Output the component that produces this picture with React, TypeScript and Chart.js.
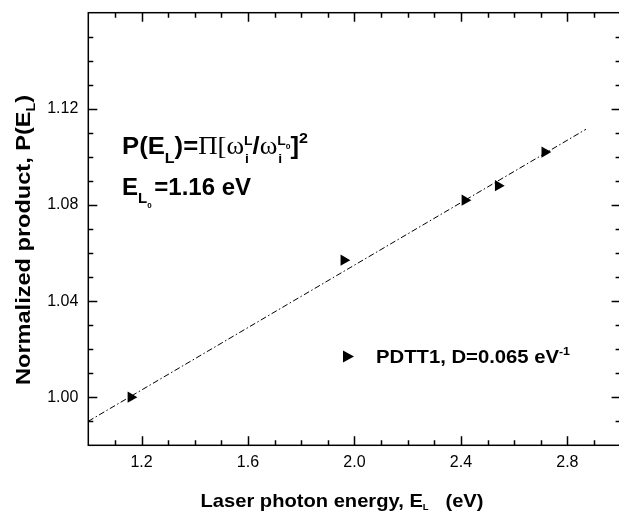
import { useEffect, useRef } from "react";
import { Chart, registerables } from "chart.js";
Chart.register(...registerables);

const energies = [1.16, 1.96, 2.415, 2.54, 2.715];
const products = [1.0, 1.057, 1.082, 1.088, 1.102];
const fitEnergies = [1.0, 2.87];
const fitProducts = [0.99, 1.1115];
const xTicks = [1.2, 1.6, 2.0, 2.4, 2.8];
const yTicks = [1.0, 1.04, 1.08, 1.12];
const xMinorStep = 0.1;
const yMinorStep = 0.01;
const xRange = [1.0, 3.0];
const yRange = [0.98, 1.16];

const SANS = '"Liberation Sans", Arial, sans-serif';
const SERIF = '"Liberation Serif", "Times New Roman", serif';
const B = (s: number) => `bold ${s}px ${SANS}`;
const SR = (s: number) => `${s}px ${SERIF}`;

type Run = { t: string; f: string; dy?: number; adv?: number; dx?: number };

function runsWidth(ctx: CanvasRenderingContext2D, runs: Run[]) {
  let w = 0;
  for (const r of runs) {
    ctx.font = r.f;
    w += r.adv !== undefined ? r.adv : ctx.measureText(r.t).width;
  }
  return w;
}

function drawRuns(ctx: CanvasRenderingContext2D, x: number, y: number, runs: Run[]) {
  for (const r of runs) {
    ctx.font = r.f;
    ctx.fillText(r.t, x + (r.dx || 0), y + (r.dy || 0));
    x += r.adv !== undefined ? r.adv : ctx.measureText(r.t).width;
  }
}

function drawFit(ctx: CanvasRenderingContext2D, x: number, y: number, runs: Run[], target: number, center: boolean) {
  const w = runsWidth(ctx, runs);
  const sx = target / w;
  ctx.save();
  ctx.translate(center ? x - target / 2 : x, y);
  ctx.scale(sx, 1);
  drawRuns(ctx, 0, 0, runs);
  ctx.restore();
}

const framePlugin = {
  id: "frame",
  afterDraw(chart: any) {
    const ctx: CanvasRenderingContext2D = chart.ctx;
    const { left, right, top, bottom } = chart.chartArea;
    const xs = chart.scales.x;
    const ys = chart.scales.y;
    ctx.save();
    ctx.strokeStyle = "#000";
    ctx.fillStyle = "#000";
    ctx.lineWidth = 1.5;
    ctx.strokeRect(left, top, right - left, bottom - top);
    const nx = Math.round((xRange[1] - xRange[0]) / xMinorStep);
    for (let i = 1; i < nx; i++) {
      const v = xRange[0] + i * xMinorStep;
      const major = xTicks.some((t) => Math.abs(t - v) < 1e-6);
      const L = major ? 9 : 5;
      const px = Math.round(xs.getPixelForValue(v)) + 0.5;
      ctx.beginPath();
      ctx.moveTo(px, bottom);
      ctx.lineTo(px, bottom - L);
      ctx.moveTo(px, top);
      ctx.lineTo(px, top + L);
      ctx.stroke();
    }
    const ny = Math.round((yRange[1] - yRange[0]) / yMinorStep);
    for (let i = 1; i < ny; i++) {
      const v = yRange[0] + i * yMinorStep;
      const major = yTicks.some((t) => Math.abs(t - v) < 1e-6);
      const L = major ? 9 : 5;
      const py = Math.round(ys.getPixelForValue(v)) + 0.5;
      ctx.beginPath();
      ctx.moveTo(left, py);
      ctx.lineTo(left + L, py);
      ctx.moveTo(right, py);
      ctx.lineTo(right - L, py);
      ctx.stroke();
    }

    ctx.textBaseline = "alphabetic";
    ctx.textAlign = "left";
    const l1: Run[] = [
      { t: "P(E", f: B(24) },
      { t: "L", f: B(15), dy: 9 },
      { t: ")=", f: B(24) },
      { t: "\u03A0", f: SR(25) },
      { t: "[", f: SR(25) },
      { t: "\u03C9", f: SR(25) },
      { t: "i", f: B(13), dy: 9, adv: 0, dx: 1 },
      { t: "L", f: B(13), dy: -9 },
      { t: "/", f: B(24) },
      { t: "\u03C9", f: SR(25) },
      { t: "i", f: B(13), dy: 9, adv: 0, dx: 1 },
      { t: "L", f: B(13), dy: -9 },
      { t: "0", f: B(8), dy: -5 },
      { t: "]", f: B(24) },
      { t: "2", f: B(15), dy: -11 },
    ];
    drawFit(ctx, 122, 154, l1, 186, false);
    const l2: Run[] = [
      { t: "E", f: B(24) },
      { t: "L", f: B(15), dy: 8 },
      { t: "0", f: B(8), dy: 13 },
      { t: " =1.16 eV", f: B(24), dx: -4 },
    ];
    drawRuns(ctx, 122, 195, l2);

    // legend
    ctx.beginPath();
    ctx.moveTo(343, 350.5);
    ctx.lineTo(354, 356.5);
    ctx.lineTo(343, 362.5);
    ctx.closePath();
    ctx.fill();
    drawFit(ctx, 376, 363, [
      { t: "PDTT1, D=0.065 eV", f: B(18) },
      { t: "-1", f: B(11), dy: -8 },
    ], 194, false);

    // x title
    drawFit(ctx, 342, 507, [
      { t: "Laser photon energy, E", f: B(19) },
      { t: "L", f: B(9), dy: 3 },
      { t: "   (eV)", f: B(19) },
    ], 283, true);

    // y title
    ctx.save();
    ctx.translate(30, 240);
    ctx.rotate(-Math.PI / 2);
    drawFit(ctx, 0, 0, [
      { t: "Normalized product, P(E", f: B(20) },
      { t: "L", f: B(12), dy: 5 },
      { t: ")", f: B(20) },
    ], 290, true);
    ctx.restore();
    ctx.restore();
  },
};

export default function App() {
  const ref = useRef<HTMLCanvasElement>(null);
  useEffect(() => {
    if (!ref.current) return;
    const chart = new Chart(ref.current, {
      type: "scatter",
      data: {
        datasets: [
          {
            label: "PDTT1",
            data: energies.map((e, i) => ({ x: e, y: products[i] })),
            pointStyle: "triangle",
            rotation: 90,
            radius: 6.5,
            backgroundColor: "#000",
            borderColor: "#000",
            borderWidth: 0,
            showLine: false,
            order: 0,
          },
          {
            label: "fit",
            data: fitEnergies.map((e, i) => ({ x: e, y: fitProducts[i] })),
            showLine: true,
            borderColor: "#000",
            borderWidth: 1,
            borderDash: [6, 2.5, 1.5, 2.5],
            pointRadius: 0,
            order: 1,
          },
        ],
      },
      options: {
        animation: false,
        responsive: false,
        devicePixelRatio: 1,
        layout: { padding: { left: 0, top: 12.7, right: 19.4, bottom: 0 } },
        plugins: { legend: { display: false }, tooltip: { enabled: false } },
        scales: {
          x: {
            type: "linear",
            min: xRange[0],
            max: xRange[1],
            afterBuildTicks: (s: any) => {
              s.ticks = xTicks.map((v) => ({ value: v }));
            },
            afterFit: (s: any) => {
              s.height = 517 - 445.3;
              s.paddingLeft = 0;
              s.paddingRight = 0;
            },
            grid: { display: false, drawTicks: false },
            border: { display: false },
            ticks: {
              padding: 8,
              color: "#000",
              font: { family: SANS, size: 16 },
              callback: (v: any) => Number(v).toFixed(1),
            },
          },
          y: {
            type: "linear",
            min: yRange[0],
            max: yRange[1],
            afterBuildTicks: (s: any) => {
              s.ticks = yTicks.map((v) => ({ value: v }));
            },
            afterFit: (s: any) => {
              s.width = 88.3;
              s.paddingTop = 0;
              s.paddingBottom = 0;
            },
            grid: { display: false, drawTicks: false },
            border: { display: false },
            ticks: {
              padding: 10,
              color: "#000",
              font: { family: SANS, size: 16 },
              callback: (v: any) => Number(v).toFixed(2),
            },
          },
        },
      },
      plugins: [framePlugin],
    });
    return () => chart.destroy();
  }, []);
  return (
    <div
      style={{
        position: "fixed",
        left: 0,
        top: 0,
        width: 619,
        height: 517,
        overflow: "hidden",
        background: "#fff",
      }}
    >
      <canvas ref={ref} width={640} height={517} style={{ display: "block" }} />
    </div>
  );
}
